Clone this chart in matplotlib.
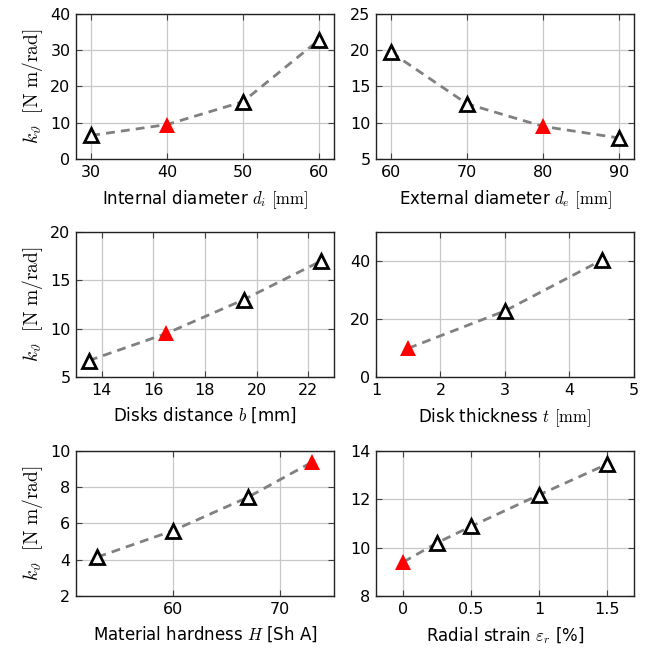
import matplotlib.pyplot as plt

plt.rcParams['font.family'] = 'DejaVu Sans'
plt.rcParams['mathtext.fontset'] = 'cm'

# data for the six parameter sweeps
d_int = [30, 40, 50, 60]
k_int = [6.5, 9.5, 15.8, 32.8]

d_ext = [60, 70, 80, 90]
k_ext = [19.7, 12.6, 9.5, 7.9]

b_dist = [13.5, 16.5, 19.5, 22.5]
k_dist = [6.7, 9.5, 13.0, 17.0]

t_disk = [1.5, 3.0, 4.5]
k_thick = [9.9, 22.8, 40.3]

hard = [53, 60, 67, 73]
k_hard = [4.15, 5.6, 7.45, 9.4]

strain = [0, 0.25, 0.5, 1.0, 1.5]
k_strain = [9.4, 10.2, 10.88, 12.18, 13.45]

panels = [
    (d_int, k_int, 1, 'Internal diameter $d_i$ $[\\mathrm{mm}]$', (28, 62), [30, 40, 50, 60], (0, 40), [0, 10, 20, 30, 40]),
    (d_ext, k_ext, 2, 'External diameter $d_e$ $[\\mathrm{mm}]$', (58, 92), [60, 70, 80, 90], (5, 25), [5, 10, 15, 20, 25]),
    (b_dist, k_dist, 1, 'Disks distance $b$ [mm]', (13, 23), [14, 16, 18, 20, 22], (5, 20), [5, 10, 15, 20]),
    (t_disk, k_thick, 0, 'Disk thickness $t$ $[\\mathrm{mm}]$', (1, 5), [1, 2, 3, 4, 5], (0, 50), [0, 20, 40]),
    (hard, k_hard, 3, 'Material hardness $H$ [Sh A]', (51, 75), [60, 70], (2, 10), [2, 4, 6, 8, 10]),
    (strain, k_strain, 0, 'Radial strain $\\varepsilon_r$ [%]', (-0.2, 1.7), [0, 0.5, 1, 1.5], (8, 14), [8, 10, 12, 14]),
]

fig = plt.figure(figsize=(6.54, 6.5), dpi=100)
lefts = [0.1162, 0.5749]
bottoms = [0.7554, 0.42, 0.0831]
w, h = 0.3945, 0.2231

for i, (x, y, red, xlabel, xlim, xt, ylim, yt) in enumerate(panels):
    ax = fig.add_axes([lefts[i % 2], bottoms[i // 2], w, h])
    ax.plot(x, y, color='#808080', lw=2, ls=(0, (3.2, 2.2)), zorder=2)
    xo = [v for j, v in enumerate(x) if j != red]
    yo = [v for j, v in enumerate(y) if j != red]
    ax.plot(xo, yo, ls='none', marker='^', ms=9.5, mfc='white', mec='black', mew=2, zorder=3)
    ax.plot([x[red]], [y[red]], ls='none', marker='^', ms=12, mfc='red', mec='red', mew=0, zorder=4)
    ax.set_xlim(*xlim)
    ax.set_ylim(*ylim)
    ax.set_xticks(xt)
    ax.set_yticks(yt)
    ax.set_xticklabels([f'{v:g}' for v in xt])
    ax.grid(True, color='#c8c8c8', lw=0.9)
    ax.set_axisbelow(True)
    ax.tick_params(direction='in', top=True, right=True, length=4, width=0.8,
                   color='#404040', labelsize=11.5, pad=4)
    for s in ax.spines.values():
        s.set_color('#222222')
        s.set_linewidth(1.0)
    ax.set_xlabel(xlabel, fontsize=12, labelpad=6)
    if i % 2 == 0:
        ax.set_ylabel(r'$k_\vartheta\ \ [\mathrm{N\ m/rad}]$', fontsize=14, labelpad=4)

fig.savefig('out.png', dpi=100)
